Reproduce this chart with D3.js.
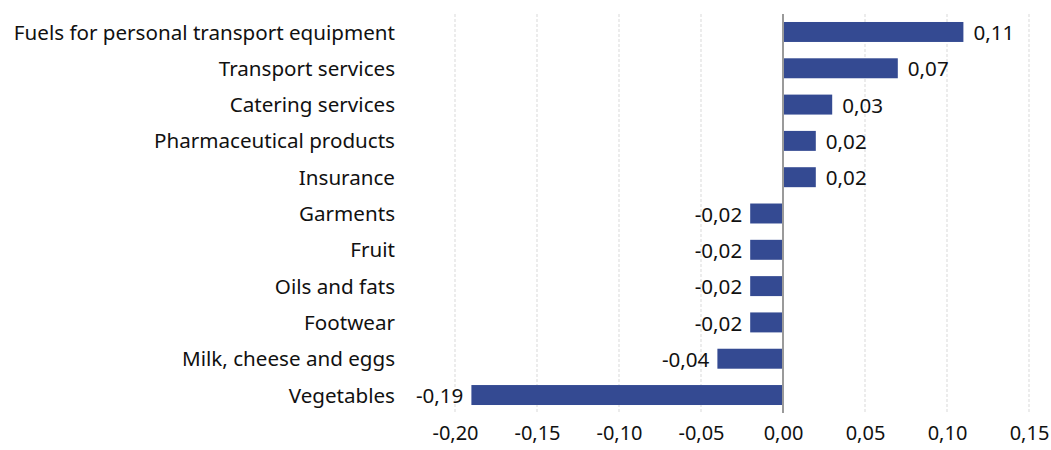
<!DOCTYPE html>
<html>
<body style="margin:0">
<style>
  body { background: #fff; }
  svg text { font-family: "Noto Sans", sans-serif; font-size: 20.6px; fill: #111; }
  .xaxis text { font-size: 20px; }
</style>
<div id="chart"></div>
<script src="https://cdn.jsdelivr.net/npm/d3@7"></script>
<script>

var categories = [
  "Fuels for personal transport equipment",
  "Transport services",
  "Catering services",
  "Pharmaceutical products",
  "Insurance",
  "Garments",
  "Fruit",
  "Oils and fats",
  "Footwear",
  "Milk, cheese and eggs",
  "Vegetables"
]
var values = [0.11, 0.07, 0.03, 0.02, 0.02, -0.02, -0.02, -0.02, -0.02, -0.04, -0.19]
var xTicks = [-0.20, -0.15, -0.10, -0.05, 0.00, 0.05, 0.10, 0.15]

var width = 1051,
    height = 450;

var fmt = function(d) { return d3.format(".2f")(d).replace(".", ",").replace("−", "-"); };

var svg = d3.select("#chart")
    .append("svg")
    .attr("width", width)
    .attr("height", height);

var x = d3.scaleLinear()
    .domain([-0.20, 0.15])
    .range([455, 1029]);

var y = d3.scaleBand()
    .domain(categories)
    .range([14, 413])
    .paddingInner(0.45)
    .paddingOuter(0.22);

// gridlines
svg.selectAll(".grid")
    .data(xTicks.filter(function(d) { return d !== 0; }))
  .enter().append("line")
    .attr("class", "grid")
    .attr("x1", function(d) { return x(d); })
    .attr("x2", function(d) { return x(d); })
    .attr("y1", 14)
    .attr("y2", 413)
    .attr("stroke", "#d9d9d9")
    .attr("stroke-width", 1)
    .attr("stroke-dasharray", "3,2");

// x axis tick labels
var xAxis = svg.append("g")
    .attr("class", "xaxis")
    .attr("transform", "translate(0,418)")
    .call(d3.axisBottom(x).tickValues(xTicks).tickFormat(fmt).tickSize(0).tickPadding(8));
xAxis.select(".domain").remove();

// bars
svg.selectAll(".bar")
    .data(values)
  .enter().append("rect")
    .attr("class", "bar")
    .attr("x", function(d) { return x(Math.min(0, d)); })
    .attr("y", function(d, i) { return y(categories[i]); })
    .attr("width", function(d) { return Math.abs(x(d) - x(0)); })
    .attr("height", y.bandwidth())
    .attr("fill", "#344a92");

// zero line
svg.append("line")
    .attr("x1", x(0)).attr("x2", x(0))
    .attr("y1", 14).attr("y2", 413)
    .attr("stroke", "#9a9a9a")
    .attr("stroke-width", 2);

// category labels
var yAxis = svg.append("g")
    .attr("transform", "translate(395,1)")
    .call(d3.axisLeft(y).tickSize(0).tickPadding(0));
yAxis.select(".domain").remove();

// value labels
svg.selectAll(".val")
    .data(values)
  .enter().append("text")
    .attr("class", "val")
    .attr("x", function(d) { return d >= 0 ? x(d) + 10 : x(d) - 8; })
    .attr("y", function(d, i) { return y(categories[i]) + y.bandwidth() / 2 + 1; })
    .attr("dy", "0.35em")
    .attr("text-anchor", function(d) { return d >= 0 ? "start" : "end"; })
    .text(fmt);

</script>
</body>
</html>
